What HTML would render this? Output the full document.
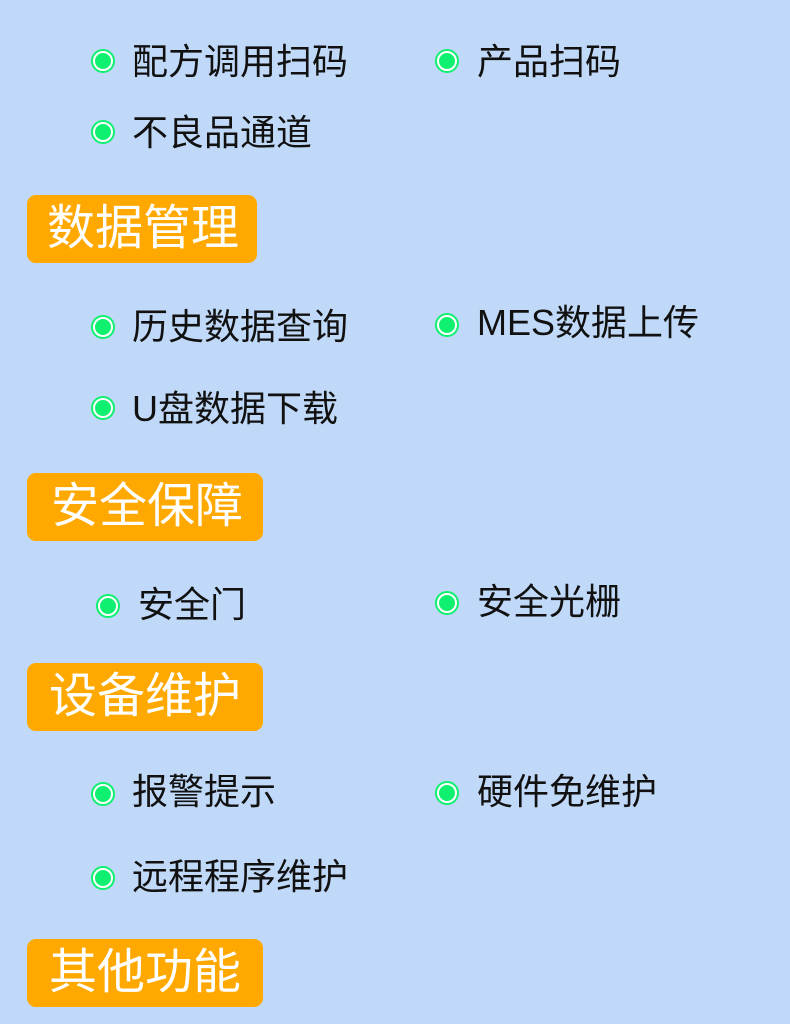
<!DOCTYPE html>
<html><head><meta charset="utf-8"><style>
html,body{margin:0;padding:0}
body{width:790px;height:1024px;background:#c1d9f8;position:relative;overflow:hidden;font-family:"Liberation Sans","Noto Sans CJK SC",sans-serif}
.b{position:absolute;width:24px;height:24px;border-radius:50%;border:2px solid #10f070;box-sizing:border-box;background:#fff}
.b::after{content:"";position:absolute;left:2px;top:2px;width:16px;height:16px;border-radius:50%;background:#10f070}
.t{position:absolute;font-size:36px;color:#111;line-height:1;white-space:nowrap}
.h{position:absolute;left:27px;height:68px;background:#ffa800;border-radius:9px;color:#fff;font-size:48px;line-height:68px;box-sizing:border-box;padding-left:20px}
</style></head><body>
<div class="b" style="left:91px;top:49px"></div><div class="t" style="left:132px;top:44px">配方调用扫码</div>
<div class="b" style="left:435px;top:49px"></div><div class="t" style="left:477px;top:44px">产品扫码</div>
<div class="b" style="left:91px;top:120px"></div><div class="t" style="left:132px;top:115px">不良品通道</div>
<div class="h" style="top:195px;width:230px">数据管理</div>
<div class="b" style="left:91px;top:315px"></div><div class="t" style="left:132px;top:309px">历史数据查询</div>
<div class="b" style="left:435px;top:313px"></div><div class="t" style="left:477px;top:305px">MES数据上传</div>
<div class="b" style="left:91px;top:396px"></div><div class="t" style="left:132px;top:391px">U盘数据下载</div>
<div class="h" style="top:473px;width:236px;padding-left:24px">安全保障</div>
<div class="b" style="left:96px;top:594px"></div><div class="t" style="left:138px;top:587px">安全门</div>
<div class="b" style="left:435px;top:591px"></div><div class="t" style="left:477px;top:584px">安全光栅</div>
<div class="h" style="top:663px;width:236px;padding-left:22px">设备维护</div>
<div class="b" style="left:91px;top:782px"></div><div class="t" style="left:132px;top:774px">报警提示</div>
<div class="b" style="left:435px;top:781px"></div><div class="t" style="left:477px;top:774px">硬件免维护</div>
<div class="b" style="left:91px;top:866px"></div><div class="t" style="left:132px;top:859px">远程程序维护</div>
<div class="h" style="top:939px;width:236px;padding-left:22px">其他功能</div>
</body></html>
